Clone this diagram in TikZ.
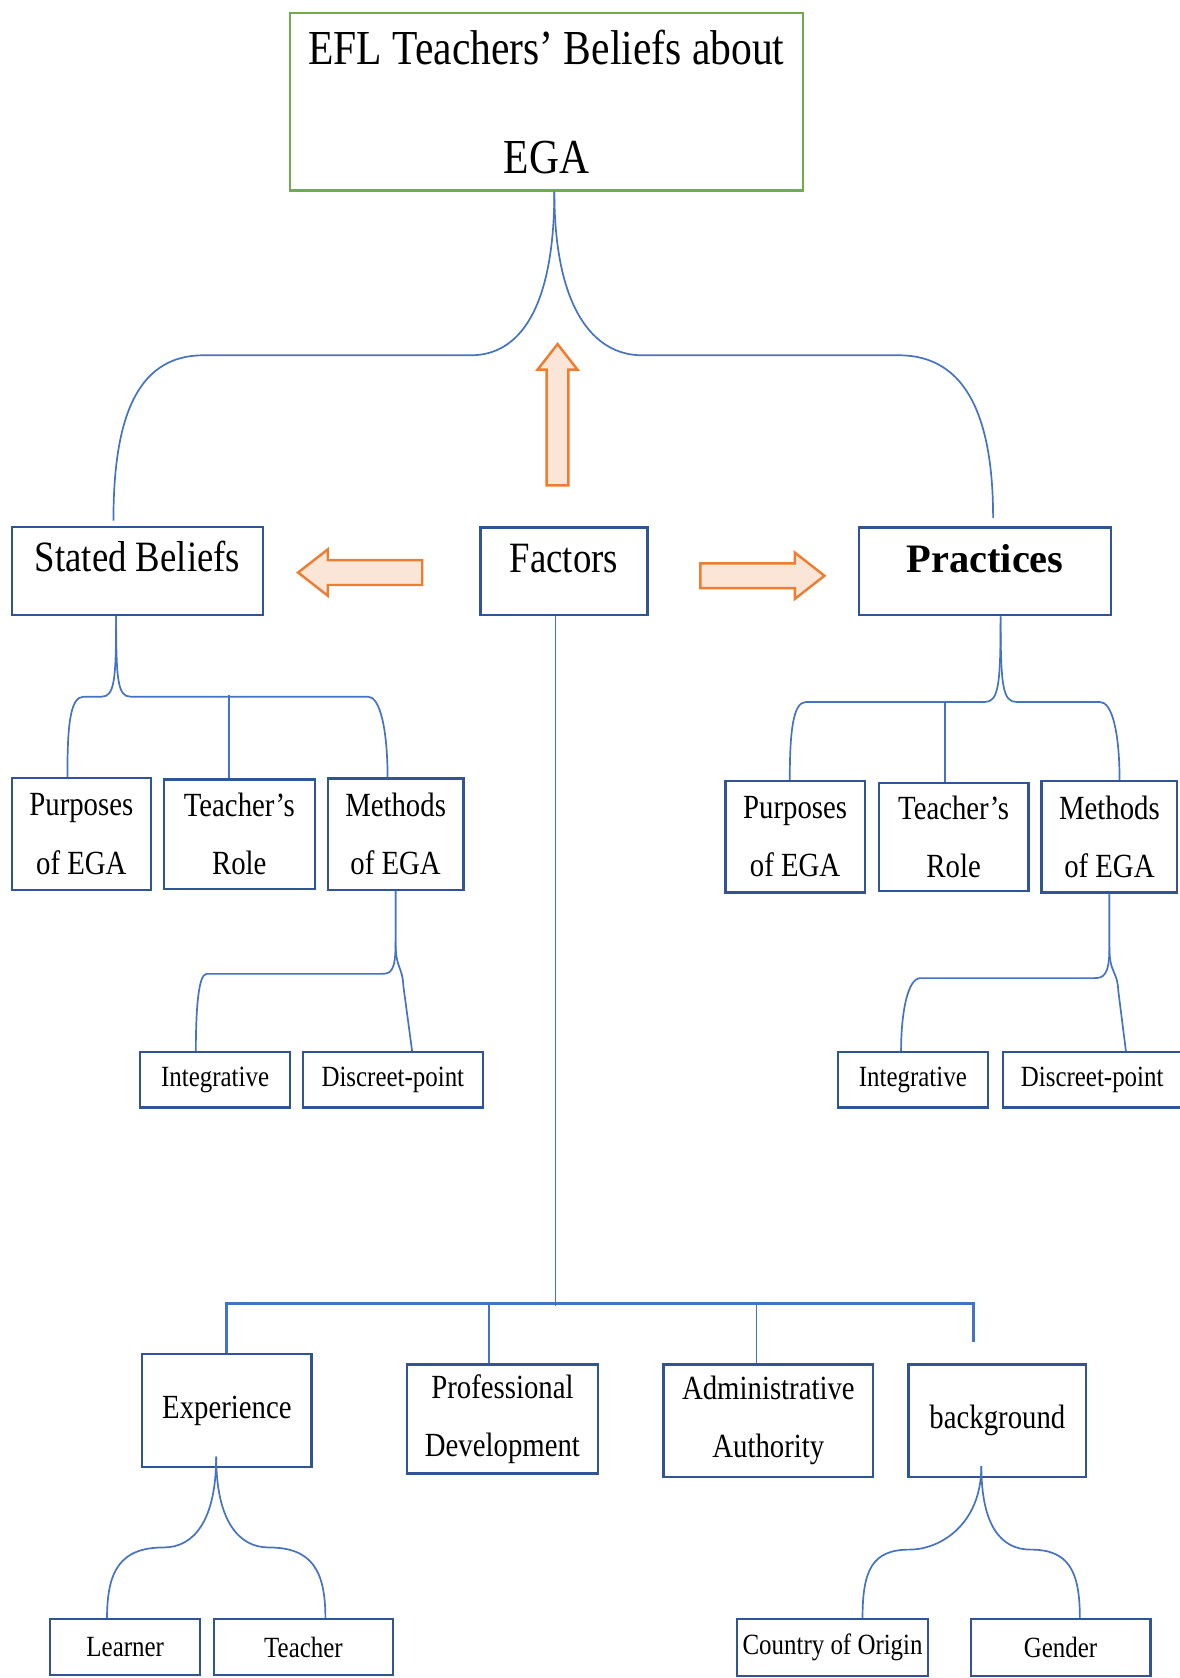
\documentclass[tikz,border=0pt]{standalone}
\usepackage{fontspec}
\setmainfont{Liberation Serif}[FakeStretch=0.85]
\newfontfamily\plainserif{Liberation Serif}
\usetikzlibrary{shapes,arrows,positioning}
\definecolor{boxblue}{HTML}{2F5597}
\definecolor{linkblue}{HTML}{4472C4}
\definecolor{arrorange}{HTML}{ED7D31}
\definecolor{arrfill}{HTML}{FBE5D6}
\definecolor{titlegreen}{HTML}{70AD47}

\begin{document}
\begin{tikzpicture}[x=0.02cm,y=-0.02cm]
 \tikzset{title node/.style={rectangle, draw=titlegreen, line width=1.1pt,
 		text centered, align=center, inner sep=0pt,
 		font=\fontsize{26}{58}\selectfont}, }
 \tikzset{main node/.style={rectangle, draw=boxblue, line width=1.2pt,
 		text centered, inner sep=0pt, minimum height=1.64cm,
 		text height=0.5cm, text depth=0.47cm,
 		font=\fontsize{23}{28}\selectfont}, }
 \tikzset{sub node/.style={rectangle, draw=boxblue, line width=1.2pt,
 		text centered, align=center, inner sep=0pt,
 		font=\fontsize{18}{31}\selectfont}, }
 \tikzset{leaf node/.style={rectangle, draw=boxblue, line width=1.2pt,
 		text centered, inner sep=0pt, minimum height=1.04cm,
 		font=\fontsize{15.6}{19}\selectfont}, }
 \tikzset{link/.style={draw=linkblue, line width=0.9pt},}
 \tikzset{block arrow/.style={single arrow, draw=arrorange, fill=arrfill,
 		line width=1.3pt, inner sep=0pt, inner ysep=0.21cm,
 		single arrow head extend=0.2cm, single arrow tip angle=76}, }
 \useasboundingbox (0,0) rectangle (1102,1568);
 \node[title node, minimum width=9.58cm, minimum height=3.32cm] (title) at (510.5,95) {EFL Teachers’ Beliefs about\\EGA};
 \node[main node, minimum width=4.7cm] (sb) at (128.5,533.5) {Stated Beliefs};
 \node[main node, minimum width=3.12cm] (fac) at (527,534) {Factors};
 \node[main node, minimum width=4.7cm] (pra) at (920.5,534) {\plainserif\bfseries\fontsize{21.5}{26}\selectfont Practices};
 % stated beliefs side
 \node[sub node, minimum width=2.6cm, minimum height=2.1cm] (pur1) at (76,779.5) {Purposes\\of EGA};
 \node[sub node, minimum width=2.82cm, minimum height=2.04cm] (tr1) [right=0.2cm of pur1] {Teacher’s\\Role};
 \node[sub node, minimum width=2.54cm, minimum height=2.08cm] (me1) [right=0.2cm of tr1] {Methods\\of EGA};
 \node[leaf node, minimum width=2.8cm] (int1) at (201,1009) {Integrative};
 \node[leaf node, minimum width=3.36cm] (dp1) [right=0.2cm of int1] {Discreet-point};
 % practices side
 \node[sub node, minimum width=2.6cm, minimum height=2.08cm] (pur2) at (743,782) {Purposes\\of EGA};
 \node[sub node, minimum width=2.8cm, minimum height=2.02cm] (tr2) [right=0.22cm of pur2] {Teacher’s\\Role};
 \node[sub node, minimum width=2.54cm, minimum height=2.08cm] (me2) [right=0.2cm of tr2] {Methods\\of EGA};
 \node[leaf node, minimum width=2.8cm] (int2) at (853,1009) {Integrative};
 \node[leaf node, minimum width=3.34cm] (dp2) [right=0.24cm of int2] {Discreet-point};
 % factors
 \node[sub node, minimum width=3.16cm, minimum height=2.12cm] (exp) at (212,1318) {Experience};
 \node[sub node, minimum width=3.58cm, minimum height=2.04cm] (pd) at (469.5,1326) {Professional\\Development};
 \node[sub node, minimum width=3.92cm, minimum height=2.1cm] (aa) at (718,1327.5) {Administrative\\Authority};
 \node[sub node, minimum width=3.32cm, minimum height=2.1cm] (bg) at (932,1327.5) {background};
 \node[leaf node, minimum width=2.8cm] (lea) at (117,1539) {Learner};
 \node[leaf node, minimum width=3.34cm] (tea) [right=0.22cm of lea] {Teacher};
 \node[leaf node, minimum width=3.56cm, minimum height=1.06cm] (coo) at (778,1539.5) {Country of Origin};
 \node[leaf node, minimum width=3.36cm, minimum height=1.06cm] (gen) [right=0.76cm of coo] {Gender};
 % block arrows
 \node[block arrow, rotate=90, minimum height=2.64cm, inner ysep=0.18cm,
   single arrow head extend=0.17cm] (uparr) at (521,394) {};
 \node[block arrow, rotate=180, minimum height=2.32cm] (leftarr) at (344,535) {};
 \node[block arrow, minimum height=2.32cm] (rightarr) at (705,538) {};
 % braces
 \draw[link] ([xshift=0.15cm]title.south) .. controls +(0,110) and +(45,0) .. (440,332)
   -- (190,332) .. controls +(-65,0) and +(0,-90) .. ([xshift=-0.45cm,yshift=0.1cm]sb.north);
 \draw[link] ([xshift=0.15cm]title.south) .. controls +(0,110) and +(-45,0) .. (600,332)
   -- (840,332) .. controls +(65,0) and +(0,-90) .. ([xshift=0.15cm,yshift=0.16cm]pra.north);
 \draw[link] ([xshift=-0.4cm]sb.south) .. controls +(0,60) and +(12,0) .. (95,651) -- (78,651)
   .. controls +(-13,0) and +(0,-45) .. ([xshift=-0.26cm]pur1.north);
 \draw[link] ([xshift=-0.4cm]sb.south) .. controls +(0,60) and +(-12,0) .. (122,651) -- (344,651)
   .. controls +(11,0) and +(0,-45) .. ([xshift=-0.15cm]me1.north);
 \draw[link] ([xshift=-0.19cm]tr1.north) -- +(0,-78);
 \draw[link] ([xshift=0.29cm]pra.south) .. controls +(0,65) and +(13,0) .. (920,656) -- (753,656)
   .. controls +(-12,0) and +(0,-45) .. ([xshift=-0.1cm]pur2.north);
 \draw[link] ([xshift=0.29cm]pra.south) .. controls +(0,65) and +(-13,0) .. (950,656) -- (1028,656)
   .. controls +(11,0) and +(0,-45) .. ([xshift=0.19cm]me2.north);
 \draw[link] ([xshift=-0.16cm]tr2.north) -- +(0,-75);
 \draw[link] (me1.south) -- +(0,48) .. controls +(0,28) and +(9,0) .. (356,910) -- (193,910)
   .. controls +(-8,0) and +(0,-35) .. ([xshift=-0.36cm]int1.north);
 \draw[link] (me1.south) -- +(0,48) .. controls +(0,25) and +(-1,-20) .. (377,922)
   -- ([xshift=0.36cm]dp1.north);
 \draw[link] (me2.south) -- +(0,50) .. controls +(0,27) and +(9,0) .. (1022,914) -- (860,914)
   .. controls +(-12,0) and +(0,-35) .. ([xshift=-0.22cm]int2.north);
 \draw[link] (me2.south) -- +(0,50) .. controls +(0,25) and +(-1,-20) .. (1045,926)
   -- ([xshift=0.63cm]dp2.north);
 % factors tree
 \draw[link] ([xshift=-0.16cm]fac.south) -- ++(0,644) coordinate (hub);
 \draw[link, line width=1.5pt] (exp.north) -- ++(0,-46) -| ([xshift=-0.44cm,yshift=0.4cm]bg.north);
 \draw[link] ([xshift=-0.25cm]pd.north) -- +(0,-56);
 \draw[link] ([xshift=-0.22cm]aa.north) -- +(0,-56);
 \draw[link] ([xshift=-0.2cm,yshift=0.22cm]exp.south) .. controls +(0,60) and +(28,0) .. (153,1446)
   .. controls +(-40,0) and +(0,-45) .. ([xshift=-0.34cm]lea.north);
 \draw[link] ([xshift=-0.2cm,yshift=0.22cm]exp.south) .. controls +(0,60) and +(-28,0) .. (251,1446)
   .. controls +(40,0) and +(0,-45) .. ([xshift=0.41cm]tea.north);
 \draw[link] ([xshift=-0.3cm,yshift=0.22cm]bg.south) .. controls +(0,55) and +(28,0) .. (850,1448)
   .. controls +(-35,0) and +(0,-45) .. ([xshift=0.56cm]coo.north);
 \draw[link] ([xshift=-0.3cm,yshift=0.22cm]bg.south) .. controls +(0,55) and +(-28,0) .. (963,1448)
   .. controls +(35,0) and +(0,-45) .. ([xshift=0.36cm]gen.north);
\end{tikzpicture}
\end{document}
